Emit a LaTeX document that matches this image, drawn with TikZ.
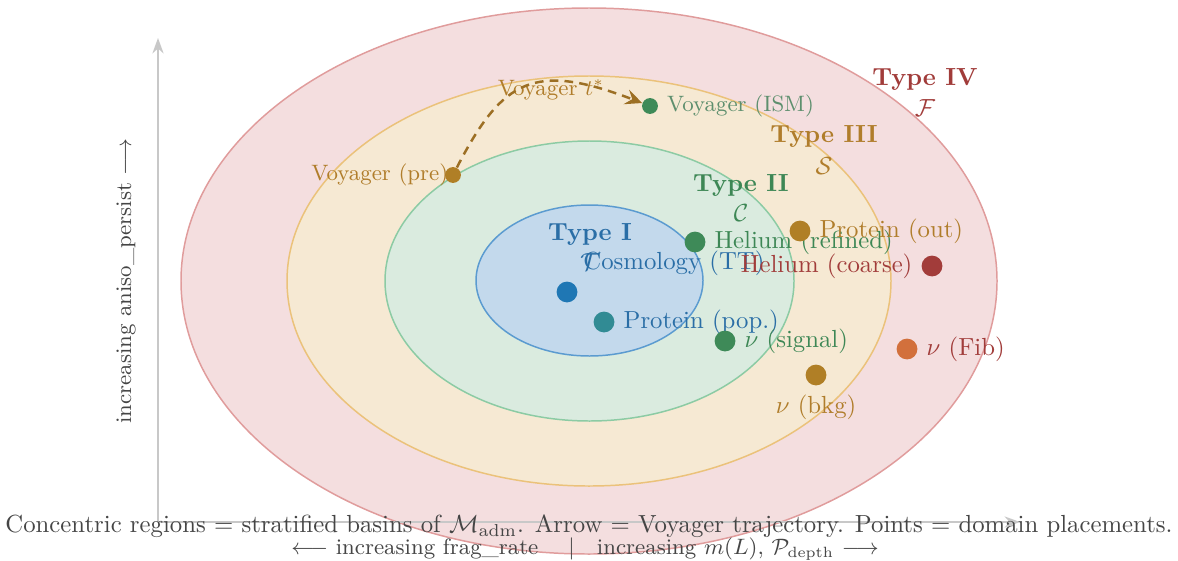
\documentclass[tikz,border=0pt]{standalone}
\usepackage{amsmath,amssymb}
\usepackage[dvipsnames]{xcolor}
\usepackage{tikz}
\usetikzlibrary{arrows.meta,positioning,calc}
\definecolor{LightBlue}{HTML}{C3D9EC}
\definecolor{LightGreen}{HTML}{DAEBDF}
\definecolor{LightGold}{HTML}{F6E9D3}
\definecolor{LightRed}{HTML}{F4DEDF}
\definecolor{EdgeBlue}{HTML}{5B9BD0}
\definecolor{EdgeGreen}{HTML}{8CCBA4}
\definecolor{EdgeGold}{HTML}{EBC27A}
\definecolor{EdgeRed}{HTML}{E09C9C}
\definecolor{DeepBlue}{HTML}{2A6EA6}
\definecolor{DeepGreen}{HTML}{3D8755}
\definecolor{DeepGold}{HTML}{B07D2B}
\definecolor{DeepRed}{HTML}{A13C3A}
\definecolor{DotBlue}{HTML}{1F77B4}
\definecolor{DotTeal}{HTML}{318B94}
\definecolor{DotGreen}{HTML}{3E8A58}
\definecolor{DotGold}{HTML}{B07F26}
\definecolor{DotRed}{HTML}{A23C3A}
\definecolor{DotOrange}{HTML}{D2703C}
\definecolor{MutedGreen}{HTML}{5E8F6E}
\definecolor{TrajGold}{HTML}{9C6F24}
\definecolor{AxisGray}{HTML}{C8C8C8}
\definecolor{CapGray}{HTML}{454545}

\begin{document}
\begin{tikzpicture}[
  x=0.404pt,y=-0.404pt,
  region/.style={line width=0.6pt},
  pt/.style={circle,fill=#1,inner sep=0pt,minimum size=8.4pt},
  spt/.style={circle,fill=#1,inner sep=0pt,minimum size=6.4pt},
  tag/.style={font=\bfseries,text=#1},
  lbl/.style={text=#1,label distance=0pt},
  axis/.style={draw=AxisGray,line width=0.6pt,-{Stealth[length=2.2mm,width=1.6mm]}},
  traj/.style={draw=TrajGold,line width=1pt,dash pattern=on 3.5pt off 2.5pt,-{Stealth[length=2.4mm,width=2.2mm,inset=0.9mm]}}
]
\useasboundingbox (0,0) rectangle (1178,560);
\draw[region,draw=EdgeRed,fill=LightRed] (589,281) ellipse [x radius=408,y radius=273];
\draw[region,draw=EdgeGold,fill=LightGold] (589,281) ellipse [x radius=302,y radius=205];
\draw[region,draw=EdgeGreen,fill=LightGreen] (589.5,281) ellipse [x radius=204.5,y radius=140];
\draw[region,draw=EdgeBlue,fill=LightBlue] (589.5,280.5) ellipse [x radius=113.5,y radius=75.5];
\coordinate (origin) at (158,522);
\coordinate (ytip) at (158,38);
\coordinate (xtip) at (1020,522);
\draw[axis] (origin) -- (ytip);
\draw[axis] (origin) -- (xtip);
\node[tag=DeepRed] (t4) at (925,79) {Type IV};
\node[text=DeepRed] (f4) at (925,108) {$\mathcal{F}$};
\node[tag=DeepGold] (t3) at (824,136) {Type III};
\node[text=DeepGold] (s3) at (824,166) {$\mathcal{S}$};
\node[tag=DeepGreen] (t2) at (741,185) {Type II};
\node[text=DeepGreen] (c2) at (741,213) {$\mathcal{C}$};
\node[tag=DeepBlue] (t1) at (590,234) {Type I};
\node[text=DeepBlue] (c1) at (590,262) {$\mathcal{T}$};
\node[spt=DotGold,label={[lbl=DeepGold,font=\small,label distance=-5pt]left:Voyager (pre)}] (vpre) at (453,175) {};
\node[spt=DotGreen,label={[lbl=MutedGreen,font=\small]right:Voyager (ISM)}] (vism) at (650,106) {};
\node[text=DeepGold,font=\small] (vt) at (551,90) {Voyager $t^*$};
\draw[traj] (vpre) .. controls (503,78) and (535,62) .. (vism);
\node[pt=DotBlue,label={[lbl=DeepBlue]45:Cosmology (TT)}] (cosmo) at (567,292) {};
\node[pt=DotTeal,label={[lbl=DeepBlue]right:Protein (pop.)}] (protpop) at (604,322) {};
\node[pt=DotGreen,label={[lbl=DeepGreen]right:Helium (refined)}] (helref) at (695,242) {};
\node[pt=DotGold,label={[lbl=DeepGold]right:Protein (out)}] (protout) at (800,231) {};
\node[pt=DotRed,label={[lbl=DeepRed]left:Helium (coarse)}] (helcoarse) at (932,266) {};
\node[pt=DotGreen,label={[lbl=DeepGreen]right:$\nu$ (signal)}] (nusig) at (725,341) {};
\node[pt=DotGold,label={[lbl=DeepGold]below:$\nu$ (bkg)}] (nubkg) at (816,375) {};
\node[pt=DotOrange,label={[lbl=DeepRed]right:$\nu$ (Fib)}] (nufib) at (907,349) {};
\node[rotate=90,text=CapGray,font=\small] (ylbl) at (126,281) {increasing aniso\_persist $\longrightarrow$};
\node[text=CapGray] (cap) at (589,526) {Concentric regions $=$ stratified basins of $\mathcal{M}_{\mathrm{adm}}$. Arrow $=$ Voyager trajectory. Points $=$ domain placements.};
\node[text=CapGray,font=\small] (xlbl) at (585,549) {$\longleftarrow$ increasing frag\_rate \quad$|$\quad increasing $m(L)$, $\mathcal{P}_{\mathrm{depth}}$ $\longrightarrow$};
\end{tikzpicture}
\end{document}
